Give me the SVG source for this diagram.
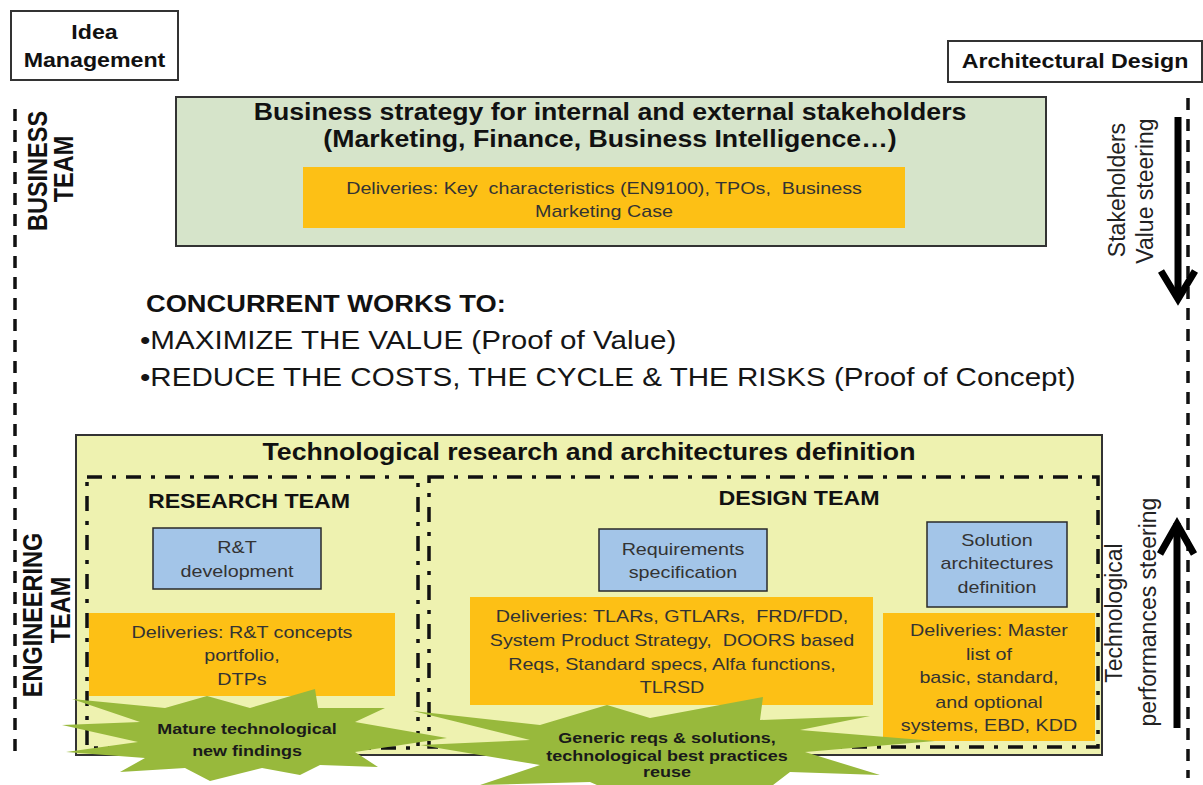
<svg xmlns="http://www.w3.org/2000/svg" width="1203" height="785" viewBox="0 0 1203 785">
<style>
  text { font-family: "Liberation Sans", Arial, sans-serif; fill: #111; white-space: pre; }
  .b20 { font-size: 20px; font-weight: bold; text-anchor: middle; }
  .b23 { font-size: 23px; font-weight: bold; text-anchor: middle; }
  .rot { font-size: 23.5px; font-weight: bold; text-anchor: middle; }
  .rotr { font-size: 23px; text-anchor: middle; fill: #222; }
  .body { font-size: 17px; text-anchor: middle; fill: #333; }
  .burst { font-size: 15.5px; font-weight: bold; text-anchor: middle; fill: #1a1a1a; }
  .conc { font-size: 25.5px; fill: #151515; }
  .concb { font-size: 23.5px; font-weight: bold; fill: #111; }
  .frame { fill: #fff; stroke: #333; stroke-width: 2; }
  .orange { fill: #FDC015; }
  .blue { fill: #A3C5E8; stroke: #2a2a2a; stroke-width: 1.5; }
  .dashdot { fill: none; stroke: #111; stroke-width: 3.5; stroke-dasharray: 15 10 4 10; }
  .vdash { fill: none; stroke: #111; stroke-width: 3.5; stroke-dasharray: 12 9; }
  .star { fill: #98B93C; }
  .arrow { fill: none; stroke: #000; stroke-width: 7; }
</style>

<!-- side dashed lines -->
<g id="side-lines">
  <line class="vdash" x1="15" y1="109" x2="15" y2="760"/>
  <line class="vdash" x1="1188" y1="98" x2="1188" y2="778"/>
</g>

<g id="idea-management">
  <rect class="frame" x="11" y="11" width="167" height="69"/>
  <text class="b20" transform="translate(94.5,0) scale(1.16,1)"><tspan x="0" y="39">Idea</tspan><tspan x="0" y="67">Management</tspan></text>
</g>

<g id="architectural-design">
  <rect class="frame" x="948" y="41" width="254" height="41"/>
  <text class="b20" transform="translate(1075,0) scale(1.16,1)" x="0" y="68">Architectural Design</text>
</g>

<g id="business-team-label">
  <text class="rot" transform="translate(47,171) scale(1.16,1) rotate(-90)">BUSINESS</text>
  <text class="rot" transform="translate(73,169) scale(1.16,1) rotate(-90)">TEAM</text>
</g>

<g id="business-strategy">
  <rect x="176" y="97" width="870" height="149" fill="#D6E4CA" stroke="#333" stroke-width="2"/>
  <text class="b23" transform="translate(610,0) scale(1.16,1)"><tspan x="0" y="120">Business strategy for internal and external stakeholders</tspan><tspan x="0" y="147">(Marketing, Finance, Business Intelligence…)</tspan></text>
  <rect class="orange" x="303" y="167" width="602" height="61"/>
  <text class="body" xml:space="preserve" transform="translate(604,0) scale(1.16,1)"><tspan x="0" y="194">Deliveries: Key  characteristics (EN9100), TPOs,  Business</tspan><tspan x="0" y="217">Marketing Case</tspan></text>
</g>

<g id="concurrent-works">
  <text class="concb" transform="translate(146,0) scale(1.16,1)" x="0" y="312">CONCURRENT WORKS TO:</text>
  <text class="conc" transform="translate(140,0) scale(1.16,1)" x="0" y="349">•MAXIMIZE THE VALUE (Proof of Value)</text>
  <text class="conc" transform="translate(140,0) scale(1.16,1)" x="0" y="386">•REDUCE THE COSTS, THE CYCLE &amp; THE RISKS (Proof of Concept)</text>
</g>

<g id="stakeholders-steering">
  <text class="rotr" transform="translate(1125,190) rotate(-90)">Stakeholders</text>
  <text class="rotr" transform="translate(1153,191) rotate(-90)">Value steering</text>
</g>

<g id="technological-steering">
  <text class="rotr" transform="translate(1122,613) rotate(-90)">Technological</text>
  <text class="rotr" transform="translate(1156,612) rotate(-90)">performances steering</text>
</g>

<g id="engineering-team-label">
  <text class="rot" transform="translate(42,615) scale(1.16,1) rotate(-90)">ENGINEERING</text>
  <text class="rot" transform="translate(70,610) scale(1.16,1) rotate(-90)">TEAM</text>
</g>

<g id="technological-research">
  <rect x="76" y="435" width="1026" height="320" fill="#EEF2B0"/>
  <text class="b23" transform="translate(589,0) scale(1.16,1)" x="0" y="460">Technological research and architectures definition</text>
</g>

<g id="rt-development">
  <rect class="blue" x="153" y="528" width="168" height="61"/>
  <text class="body" transform="translate(237,0) scale(1.16,1)"><tspan x="0" y="553">R&amp;T</tspan><tspan x="0" y="577">development</tspan></text>
</g>

<g id="research-deliveries">
  <rect class="orange" x="89" y="613" width="306" height="83"/>
  <text class="body" transform="translate(242,0) scale(1.16,1)"><tspan x="0" y="638">Deliveries: R&amp;T concepts</tspan><tspan x="0" y="661">portfolio,</tspan><tspan x="0" y="685">DTPs</tspan></text>
</g>

<g id="requirements-specification">
  <rect class="blue" x="599" y="529" width="168" height="62"/>
  <text class="body" transform="translate(683,0) scale(1.16,1)"><tspan x="0" y="555">Requirements</tspan><tspan x="0" y="578">specification</tspan></text>
</g>

<g id="design-deliveries">
  <rect class="orange" x="470" y="597" width="403" height="108"/>
  <text class="body" xml:space="preserve" transform="translate(672,0) scale(1.16,1)"><tspan x="0" y="622">Deliveries: TLARs, GTLARs,  FRD/FDD,</tspan><tspan x="0" y="646">System Product Strategy,  DOORS based</tspan><tspan x="0" y="670">Reqs, Standard specs, Alfa functions,</tspan><tspan x="0" y="693">TLRSD</tspan></text>
</g>

<g id="solution-architectures">
  <rect class="blue" x="927" y="522" width="140" height="85"/>
  <text class="body" transform="translate(997,0) scale(1.16,1)"><tspan x="0" y="546">Solution</tspan><tspan x="0" y="569">architectures</tspan><tspan x="0" y="593">definition</tspan></text>
</g>

<g id="solution-deliveries">
  <rect class="orange" x="883" y="613" width="212" height="128"/>
  <text class="body" transform="translate(989,0) scale(1.16,1)"><tspan x="0" y="636">Deliveries: Master</tspan><tspan x="0" y="660">list of</tspan><tspan x="0" y="683">basic, standard,</tspan><tspan x="0" y="708">and optional</tspan><tspan x="0" y="731">systems, EBD, KDD</tspan></text>
</g>

<g id="team-frames">
  <rect x="76" y="435" width="1026" height="320" fill="none" stroke="#333" stroke-width="2"/>
  <rect id="research-team" class="dashdot" x="87" y="477" width="331" height="271"/>
  <rect id="design-team" class="dashdot" x="429" y="477" width="669" height="270"/>
  <text class="b20" transform="translate(249,0) scale(1.16,1)" x="0" y="508">RESEARCH TEAM</text>
  <text class="b20" transform="translate(799,0) scale(1.16,1)" x="0" y="505">DESIGN TEAM</text>
</g>

<g id="burst-mature">
  <path class="star" d="M62,725 L140,722 L72,699 L165,708 L207,696 L250,708 L315,689 L318,708 L385,708 L355,722 L447,738 L355,752 L378,767 L320,765 L300,775 L262,768 L210,781 L185,768 L120,772 L145,758 L66,752 L138,742 Z"/>
  <text class="burst" transform="translate(247,0) scale(1.16,1)"><tspan x="0" y="734">Mature technological</tspan><tspan x="0" y="756">new findings</tspan></text>
</g>

<g id="burst-generic">
  <path class="star" d="M413,711 L540,725 L607,705 L650,718 L763,697 L760,720 L870,716 L800,730 L935,741 L805,752 L880,775 L790,772 L760,795 L700,785 L620,795 L590,782 L480,785 L540,765 L420,745 L530,740 Z"/>
  <text class="burst" transform="translate(667,0) scale(1.16,1)"><tspan x="0" y="743">Generic reqs &amp; solutions,</tspan><tspan x="0" y="761">technological best practices</tspan><tspan x="0" y="777">reuse</tspan></text>
</g>

<g id="connectors">
  <line class="arrow" x1="1178" y1="117" x2="1178" y2="298"/>
  <polyline class="arrow" points="1161,271 1178,299 1195,271" stroke-linejoin="miter"/>
  <line class="arrow" x1="1177" y1="728" x2="1177" y2="523"/>
  <polyline class="arrow" points="1160,554 1177,524 1194,554" stroke-linejoin="miter"/>
</g>
</svg>
